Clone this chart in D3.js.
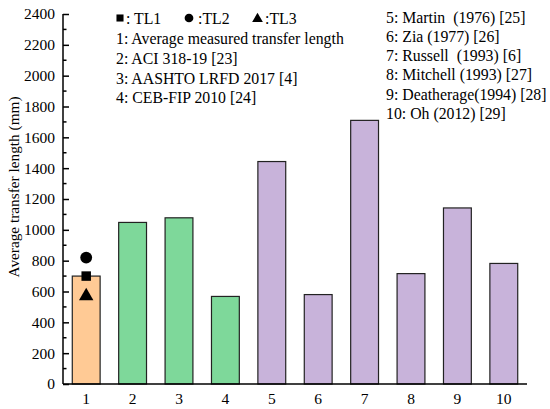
<!DOCTYPE html>
<html><head><meta charset="utf-8">
<script src="https://cdn.jsdelivr.net/npm/d3@7/dist/d3.min.js"></script>
<style>body{margin:0;background:#fff}svg{display:block}text{font-family:"Liberation Serif","Times New Roman",serif;fill:#000;white-space:pre}</style>
</head><body><svg id="c" width="550" height="409"></svg>
<script>
const categories = ["1","2","3","4","5","6","7","8","9","10"];
const values = [700, 1048, 1078, 568, 1443, 580, 1710, 716, 1142, 782];
const groups = ["meas","code","code","code","emp","emp","emp","emp","emp","emp"];
const markerValues = [700, 820, 580]; // TL1, TL2, TL3 at bar 1
const markerNames = ["TL1","TL2","TL3"];
const yTicks = [0,200,400,600,800,1000,1200,1400,1600,1800,2000,2200,2400];
const legendLeft = ["1: Average measured transfer length","2: ACI 318-19 [23]","3: AASHTO LRFD 2017 [4]","4: CEB-FIP 2010 [24]"];
const legendRight = ["5: Martin  (1976) [25]","6: Zia (1977) [26]","7: Russell  (1993) [6]","8: Mitchell (1993) [27]","9: Deatherage(1994) [28]","10: Oh (2012) [29]"];
const colors = {meas:"#FFCA95", code:"#7ED89A", emp:"#C8B3DA"};

const svg = d3.select("#c");
const L=63, R=527, T=14, B=384;
const x = d3.scaleBand().domain(categories).range([L,R]).paddingInner(0.4).paddingOuter(0.2);
const y = d3.scaleLinear().domain([0,2400]).range([B,T]);

// bars
svg.selectAll("rect.bar").data(values).join("rect")
  .attr("x",(d,i)=>x(categories[i])).attr("y",d=>y(d))
  .attr("width",x.bandwidth()).attr("height",d=>B-y(d))
  .attr("fill",(d,i)=>colors[groups[i]]).attr("stroke","#222").attr("stroke-width",1.2);

// markers on bar 1
const cx = x("1")+x.bandwidth()/2;
const sym = [d3.symbolSquare, d3.symbolCircle, d3.symbolTriangle];
const sizes = [90, 110, 90];
markerValues.forEach((v,i)=>{
  svg.append("path").attr("d",d3.symbol(sym[i],sizes[i])())
    .attr("transform",`translate(${cx},${y(v)+(i===2?1.5:0)})`).attr("fill","#000");
});

// y axis
const yAxis = d3.axisLeft(y).tickValues(yTicks).tickSize(-6).tickPadding(8).tickFormat(d3.format("d"));
const gy = svg.append("g").attr("transform",`translate(${L},0)`).call(yAxis);
gy.attr("font-family",null);
gy.select(".domain").attr("stroke","#000").attr("stroke-width",1.5).attr("d",`M0,${B}V${T}`);
gy.selectAll(".tick line").attr("stroke","#000").attr("stroke-width",1.5);
gy.selectAll(".tick text").attr("font-size",15.5);
const minor = d3.range(100,2400,200);
svg.append("g").selectAll("line").data(minor).join("line")
  .attr("x1",L).attr("x2",L+3.5).attr("y1",d=>y(d)).attr("y2",d=>y(d))
  .attr("stroke","#000").attr("stroke-width",1.5);

// x axis
const xAxis = d3.axisBottom(x).tickSize(0).tickPadding(9);
const gx = svg.append("g").attr("transform",`translate(0,${B})`).call(xAxis);
gx.attr("font-family",null);
gx.select(".domain").attr("stroke","#000").attr("stroke-width",1.5).attr("d",`M${L},0H${R}`);
gx.selectAll(".tick text").attr("font-size",15.5);

// y title
svg.append("text").attr("transform",`translate(19,187) rotate(-90)`)
  .attr("text-anchor","middle").attr("font-size",15.3).text("Average transfer length (mm)");

// legend top line with symbols
const lg = svg.append("g").attr("font-size",15.8);
const symX = [120, 189, 257.5];
const symTextX = [126, 198, 265];
const symLabels = [": TL1", ":TL2", ":TL3"];
symX.forEach((sx,i)=>{
  lg.append("path").attr("d",d3.symbol(sym[i], i===1?60:50)()).attr("transform",`translate(${sx},${18+(i===2?1:0)})`).attr("fill","#000");
  lg.append("text").attr("x",symTextX[i]).attr("y",23.5).text(symLabels[i]);
});
legendLeft.forEach((t,i)=>lg.append("text").attr("x",116).attr("y",44+i*19.8).text(t));
legendRight.forEach((t,i)=>lg.append("text").attr("x",386).attr("y",22.5+i*19.3).text(t));
</script></body></html>
